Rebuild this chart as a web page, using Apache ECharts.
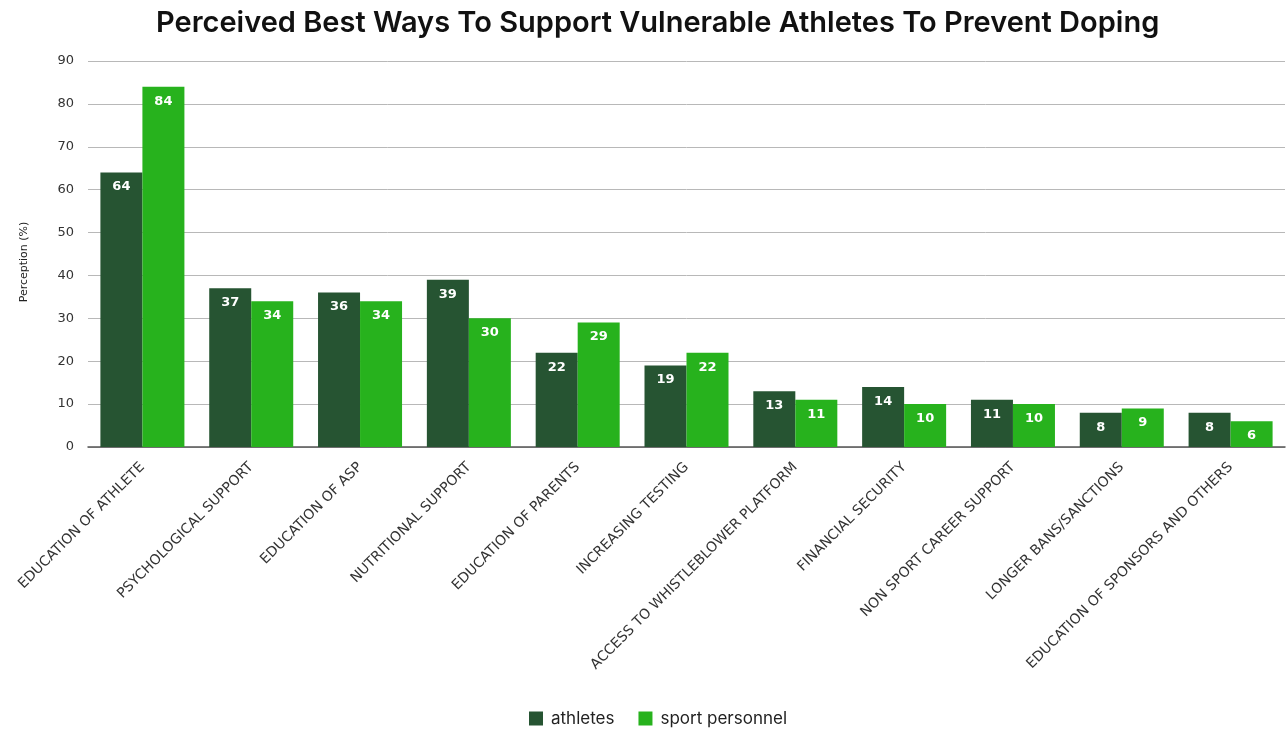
<!DOCTYPE html>
<html><head><meta charset="utf-8">
<script src="https://cdn.jsdelivr.net/npm/echarts@6/dist/echarts.min.js"></script>
<style>html,body{margin:0;padding:0;background:#fff}#c{width:1287px;height:732px}</style>
</head><body><div id="c"></div>
<script>
const categories = ["EDUCATION OF ATHLETE","PSYCHOLOGICAL SUPPORT","EDUCATION OF ASP","NUTRITIONAL SUPPORT","EDUCATION OF PARENTS","INCREASING TESTING","ACCESS TO WHISTLEBLOWER PLATFORM","FINANCIAL SECURITY","NON SPORT CAREER SUPPORT","LONGER BANS/SANCTIONS","EDUCATION OF SPONSORS AND OTHERS"];
const athletes = [64,37,36,39,22,19,13,14,11,8,8];
const sportPersonnel = [84,34,34,30,29,22,11,10,10,9,6];
const chart = echarts.init(document.getElementById('c'));
const font = '"DejaVu Sans", sans-serif';
const lbl = {show:true, position:'insideTop', color:'#fff', fontWeight:'bold', fontSize:13, fontFamily:font, distance:8};
chart.setOption({
  animation:false,
  title:{text:'Perceived Best Ways To Support Vulnerable Athletes To Prevent Doping', left:151, top:4, textStyle:{fontSize:29, fontWeight:600, color:'#111', fontFamily:'Inter, sans-serif'}},
  legend:{bottom:0, left:524, itemWidth:14, itemHeight:14, itemGap:24, icon:'rect', textStyle:{fontSize:17, color:'#222', fontFamily:'Inter, sans-serif', padding:[0,0,0,3]}, data:['athletes','sport personnel']},
  grid:{left:88, right:2, top:61, bottom:285},
  xAxis:{type:'category', data:categories, axisTick:{show:false}, axisLine:{lineStyle:{color:'#555', width:1.5}},
    axisLabel:{rotate:45, interval:0, fontSize:14, color:'#333', fontFamily:font, margin:18}},
  yAxis:{type:'value', min:0, max:90, interval:10, name:'Perception (%)', nameLocation:'middle', nameGap:58, nameRotate:90,
    nameTextStyle:{fontSize:11, color:'#222', fontFamily:font, padding:[0,16,0,0]},
    axisLabel:{fontSize:13, color:'#333', fontFamily:font, margin:14}, axisLine:{show:false}, axisTick:{show:false},
    splitLine:{lineStyle:{color:'#b8b8b8', width:1}}},
  series:[
    {name:'athletes', type:'bar', data:athletes, barWidth:'38.6%', barGap:'0%', itemStyle:{color:'#265432'}, label:lbl},
    {name:'sport personnel', type:'bar', data:sportPersonnel, barWidth:'38.6%', barGap:'0%', itemStyle:{color:'#27b21d'}, label:lbl}
  ]
});
</script></body></html>
